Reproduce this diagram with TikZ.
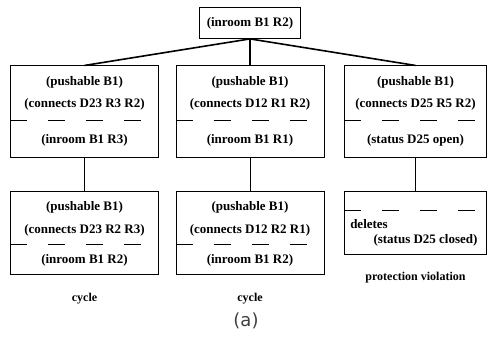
\documentclass[tikz,border=0pt]{standalone}
\usepackage{fontspec}
\setmainfont{Liberation Serif}
\newfontfamily\capfont{DejaVu Sans}
\usetikzlibrary{positioning}

\tikzset{
	box/.style={draw, line width=0.9pt, anchor=north, minimum width=148pt, inner sep=0pt},
	txt/.style={font=\bfseries\fontsize{13}{15}\selectfont, inner sep=0pt},
	note/.style={font=\bfseries\fontsize{12}{14}\selectfont, inner sep=0pt},
	sep/.style={line width=0.9pt, dash pattern=on 17pt off 21pt}
}

\begin{document}
\begin{tikzpicture}[x=1pt, y=-1pt, level distance=42.5pt,
	level 1/.style={sibling distance=165.5pt, edge from parent/.style={draw, line width=1.6pt}},
	level 2/.style={level distance=79pt, edge from parent/.style={draw, line width=0.8pt}},
	edge from parent path={(\tikzparentnode.south) -- (\tikzchildnode.north)}]
	\useasboundingbox (0,0) rectangle (487,349);
	
	\node[box, minimum width=101pt, minimum height=31pt] (Root) at (250,7) {}
	child {
		node[box, minimum height=92pt] (b1) {}
		child { node[box, minimum height=83pt] (b4) {} }
	}
	child {
		node[box, minimum height=92pt] (b2) {}
		child { node[box, minimum height=83pt] (b5) {} }
	}
	child {
		node[box, minimum width=142pt, minimum height=92pt] (b3) {}
		child { node[box, minimum width=142pt, minimum height=63pt] (b6) {} }
	};
	\node[txt] (root-t) at (Root.center) {(inroom B1 R2)};
	
	% first row
	\foreach \b/\c/\r in {b1/D23 R3 R2/inroom B1 R3, b2/D12 R1 R2/inroom B1 R1, b3/D25 R5 R2/status D25 open}{
		\node[txt] (\b-1) at ([yshift=-17pt]\b.north) {(pushable B1)};
		\node[txt] (\b-2) at ([yshift=-39pt]\b.north) {(connects \c)};
		\node[txt] (\b-3) at ([yshift=-75pt]\b.north) {(\r)};
		\draw[sep] ([yshift=-55pt]\b.north west) -- ([yshift=-55pt]\b.north east);
	}
	
	% second row
	\foreach \b/\c in {b4/D23 R2 R3, b5/D12 R2 R1}{
		\node[txt] (\b-1) at ([yshift=-16pt]\b.north) {(pushable B1)};
		\node[txt] (\b-2) at ([yshift=-39pt]\b.north) {(connects \c)};
		\node[txt] (\b-3) at ([yshift=-69pt]\b.north) {(inroom B1 R2)};
		\draw[sep] ([yshift=-54pt]\b.north west) -- ([yshift=-54pt]\b.north east);
		\node[note] (\b-lab) at ([yshift=-24pt]\b.south) {cycle};
	}
	\draw[sep] ([yshift=-20pt]b6.north west) -- ([yshift=-20pt]b6.north east);
	\node[txt, anchor=west] (b6-1) at ([xshift=6pt, yshift=-33pt]b6.north west) {deletes};
	\node[txt] (b6-2) at ([xshift=10pt, yshift=-49pt]b6.north) {(status D25 closed)};
	\node[note] (b6-lab) at ([yshift=-23pt]b6.south) {protection violation};
	
	\node[font=\capfont\fontsize{18}{21}\selectfont, text=black!75] (cap) at (246,321) {(a)};
	
\end{tikzpicture}
\end{document}
